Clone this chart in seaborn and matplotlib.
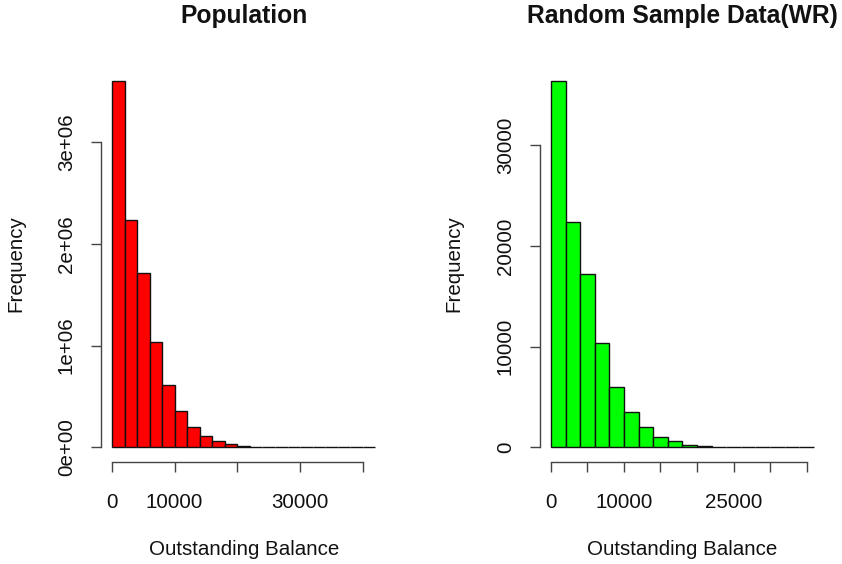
import pandas as pd
import seaborn as sns
import matplotlib.pyplot as plt

# histogram bins (width 2000) and counts
bin_width = 2000
pop_counts = [3605000, 2232000, 1717000, 1038000, 613000, 357000, 203000,
              111000, 62000, 32000, 13000, 6000, 3000, 1500, 800, 400,
              200, 100, 50, 20, 10]
sample_counts = [36420, 22350, 17190, 10390, 5960, 3540, 2020, 1020, 630,
                 230, 130, 60, 30, 15, 8, 4, 2, 1]

pop_xticks = [0, 10000, 20000, 30000, 40000]
pop_xlabels = ['0', '10000', '', '30000', '']
pop_yticks = [0, 1000000, 2000000, 3000000]
pop_ylabels = ['0e+00', '1e+06', '2e+06', '3e+06']

sample_xticks = [0, 5000, 10000, 15000, 20000, 25000, 30000, 35000]
sample_xlabels = ['0', '', '10000', '', '', '25000', '', '']
sample_yticks = [0, 10000, 20000, 30000]
sample_ylabels = ['0', '10000', '20000', '30000']

sns.set_style('ticks')
plt.rcParams['font.family'] = ['Liberation Sans', 'DejaVu Sans']

fig = plt.figure(figsize=(8.42, 5.64), dpi=100)
ax1 = fig.add_axes([0.1205, 0.1809, 0.3377, 0.7021])
ax2 = fig.add_axes([0.6419, 0.1809, 0.3371, 0.7021])


def draw_hist(ax, counts, color, title, xticks, xlabels, yticks, ylabels, ylab_x):
    edges = [i * bin_width for i in range(len(counts) + 1)]
    df = pd.DataFrame({'x': [e + bin_width / 2 for e in edges[:-1]], 'n': counts})
    sns.histplot(data=df, x='x', weights='n', bins=edges, ax=ax,
                 color=color, alpha=1, edgecolor='#111111', linewidth=1.0)
    xmax = edges[-1]
    ymax = max(counts)
    ax.set_xlim(-0.04 * xmax, xmax * 1.04)
    ax.set_ylim(-0.04 * ymax, ymax * 1.04)

    sns.despine(ax=ax)
    for side in ['left', 'bottom']:
        ax.spines[side].set_color('#444444')
        ax.spines[side].set_linewidth(1.0)
    ax.spines['bottom'].set_bounds(xticks[0], xticks[-1])
    ax.spines['left'].set_bounds(yticks[0], yticks[-1])

    ax.set_xticks(xticks)
    ax.set_xticklabels(xlabels)
    ax.set_yticks(yticks)
    ax.set_yticklabels(ylabels)
    ax.tick_params(axis='both', direction='out', length=7.4, width=1.0,
                   color='#444444', labelsize=14.8, labelcolor='#111111',
                   bottom=True, left=True)
    ax.tick_params(axis='x', pad=15)
    ax.tick_params(axis='y', pad=11)
    for lab in ax.get_yticklabels():
        lab.set_rotation(90)
        lab.set_va('center')

    ax.set_title(title, fontsize=17.7, fontweight='bold', y=1.126, pad=0,
                 va='center', color='#111111')
    ax.set_xlabel('Outstanding Balance', fontsize=14.8, color='#111111', va='center')
    ax.xaxis.set_label_coords(0.5, -0.222)
    ax.set_ylabel('Frequency', fontsize=14.8, color='#111111', va='center')
    ax.yaxis.set_label_coords(ylab_x, 0.5)
    ax.grid(False)


draw_hist(ax1, pop_counts, '#ff0000', 'Population',
          pop_xticks, pop_xlabels, pop_yticks, pop_ylabels, -0.301)
draw_hist(ax2, sample_counts, '#00ff00', 'Random Sample Data(WR)',
          sample_xticks, sample_xlabels, sample_yticks, sample_ylabels, -0.305)

fig.savefig('out.png', dpi=100)
